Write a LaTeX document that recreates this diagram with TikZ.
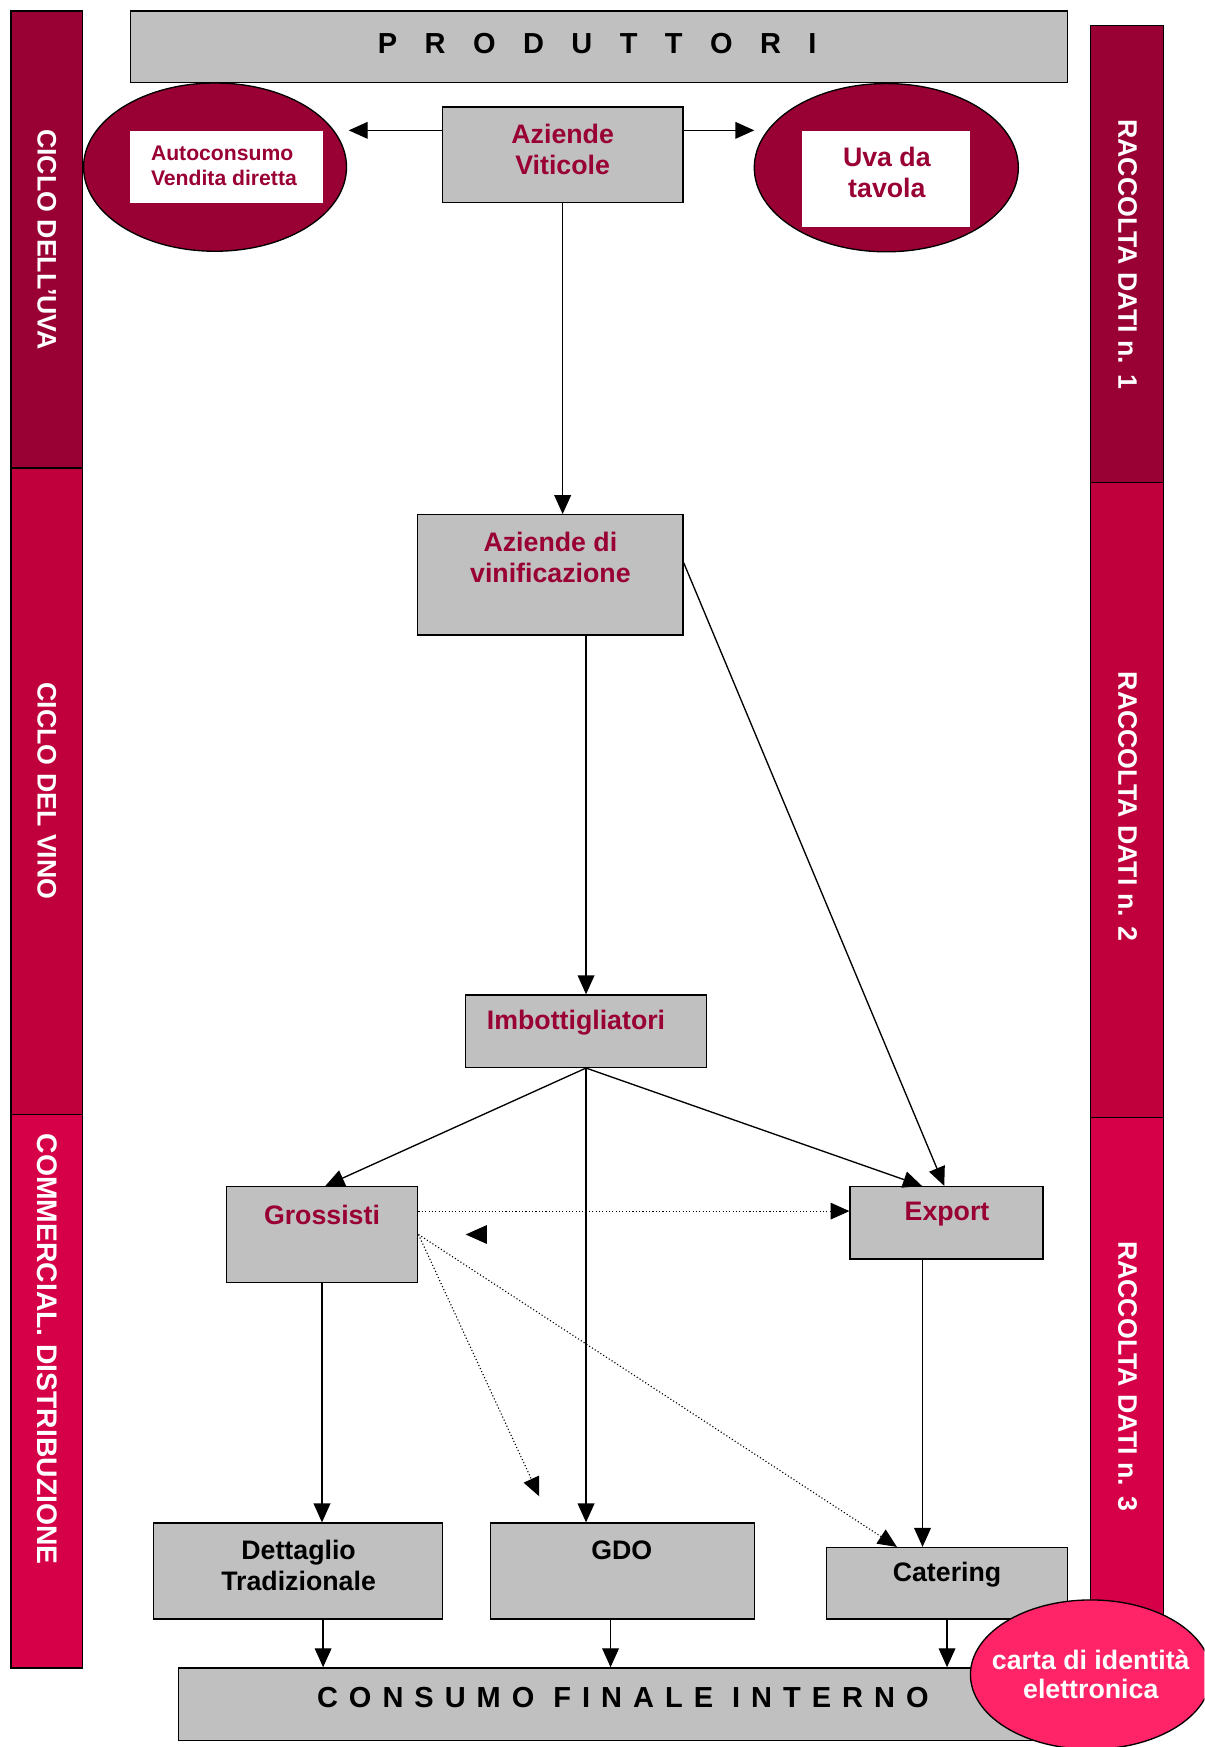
\documentclass[tikz,border=0pt]{standalone}
\usepackage{fontspec}
\setmainfont{Liberation Sans}
\usetikzlibrary{arrows.meta,shapes.geometric}
\definecolor{wine}{HTML}{990033}
\definecolor{crimson}{HTML}{BF003C}
\definecolor{raspberry}{HTML}{D60048}
\definecolor{hotpink}{HTML}{FF2468}
\definecolor{boxgray}{HTML}{C0C0C0}
\begin{document}
\begin{tikzpicture}[x=0.5pt,y=-0.5pt,
  box/.style={draw=black, line width=0.6pt, fill=boxgray, inner sep=0pt},
  band/.style={draw=black, line width=0.6pt, inner sep=0pt},
  lbl/.style={text=wine, font=\bfseries\fontsize{12}{14}\selectfont, align=center, inner sep=0pt},
  blbl/.style={text=black, font=\bfseries\fontsize{12}{14}\selectfont, align=center, inner sep=0pt},
  wide/.style={text=black, inner sep=0pt},
  bandtxt/.style={text=white, font=\bfseries\fontsize{12}{14}\selectfont, rotate=-90, inner sep=0pt},
  oval/.style={ellipse, draw=black, line width=0.6pt, inner sep=0pt},
  arr/.style={-{Triangle[length=8.5pt,width=7.5pt]}, line width=0.6pt},
  dots/.style={arr, line width=0.5pt, dash pattern=on 0.5pt off 1pt},
]
\useasboundingbox (0,0) rectangle (1081,1568);
\clip (0,0) rectangle (1081,1568);

% side bands, left
\node[band, fill=wine, minimum width=32pt, minimum height=205pt] (bl1) at (42,215) {};
\node[band, fill=crimson, minimum width=32pt, minimum height=290pt] (bl2) at (42,710) {};
\node[band, fill=raspberry, minimum width=32pt, minimum height=248.5pt] (bl3) at (42,1248.5) {};
\node[bandtxt] (tl1) at (bl1.center) {CICLO DELL’UVA};
\node[bandtxt] (tl2) at (bl2.center) {CICLO DEL VINO};
\node[bandtxt, font=\bfseries\fontsize{12.7}{15}\selectfont] (tl3) at (42,1211) {COMMERCIAL. DISTRIBUZIONE};

% side bands, right
\node[band, fill=wine, minimum width=32.5pt, minimum height=205pt] (br1) at (1011.5,228) {};
\node[band, fill=crimson, minimum width=32.5pt, minimum height=285pt] (br2) at (1011.5,718) {};
\node[band, fill=raspberry, minimum width=32.5pt, minimum height=248.5pt] (br3) at (1011.5,1251.5) {};
\node[bandtxt] (tr1) at (1012,228) {RACCOLTA DATI n. 1};
\node[bandtxt] (tr2) at (1012,724) {RACCOLTA DATI n. 2};
\node[bandtxt] (tr3) at (1012,1235) {RACCOLTA DATI n. 3};

% header
\node[box, minimum width=420.5pt, minimum height=32pt] (prod) at (537.5,42) {};
\node[wide, font=\bfseries\fontsize{13}{15}\selectfont\addfontfeatures{LetterSpace=67}] (prodt) at (536,39) {P R O D U T T O R I};

% grape producers and their two outlets
\node[box, minimum width=108pt, minimum height=43pt] (av) at (505,139) {};
\node[lbl] (avt) at (505,134) {Aziende\\Viticole};

\node[oval, fill=wine, minimum width=118pt, minimum height=75.5pt] (ovl) at (193,150) {};
\node[fill=white, inner sep=0pt, minimum width=86.5pt, minimum height=32pt] (wl) at (203.5,150) {};
\node[lbl, align=left, font=\bfseries\fontsize{9.5}{11}\selectfont] (wlt) at (201,149) {Autoconsumo\\Vendita diretta};

\node[oval, fill=wine, minimum width=118.5pt, minimum height=75.5pt] (ovr) at (795.5,150.5) {};
\node[fill=white, inner sep=0pt, minimum width=75.5pt, minimum height=43pt] (wr) at (795.5,161) {};
\node[lbl] (wrt) at (796,155) {Uva da\\tavola};

\coordinate (tipL) at (313,117);
\coordinate (tipR) at (677,117);
\draw[arr] ([yshift=11pt]av.west) -- (tipL);
\draw[arr] ([yshift=11pt]av.east) -- (tipR);

% wine chain
\node[box, minimum width=119pt, minimum height=54pt] (vin) at (494,516) {};
\node[lbl] (vint) at (494,500) {Aziende di\\vinificazione};

\node[box, minimum width=108pt, minimum height=32.5pt] (imb) at (526,925.5) {};
\node[lbl] (imbt) at (517,918) {Imbottigliatori};

\node[box, minimum width=86pt, minimum height=43pt] (gro) at (289,1108) {};
\node[lbl] (grot) at (289,1090) {Grossisti};

\node[box, minimum width=86.5pt, minimum height=32.5pt] (exp) at (849.5,1097.5) {};
\node[lbl] (expt) at (850,1090) {Export};

\node[box, minimum width=129.5pt, minimum height=43pt] (det) at (267.5,1410) {};
\node[blbl] (dett) at (268,1405) {Dettaglio\\Tradizionale};

\node[box, minimum width=118.5pt, minimum height=43pt] (gdo) at (558.5,1410) {};
\node[blbl] (gdot) at (558,1391) {GDO};

\node[box, minimum width=108pt, minimum height=32pt] (cat) at (850,1421) {};
\node[blbl] (catt) at (850,1413) {Catering};

\node[box, minimum width=399pt, minimum height=32.5pt] (con) at (559,1529.5) {};
\node[wide, font=\bfseries\fontsize{13}{15}\selectfont\addfontfeatures{LetterSpace=38}] (cont) at (559,1524) {CONSUMO FINALE INTERNO};

% main flows
\draw[arr] (av.south) -- (av.south |- vin.north);
\draw[arr] (vin.south -| imb.north) -- (imb.north);
\draw[arr] ([yshift=5.5pt]vin.east) -- ([xshift=-1pt]exp.north);
\draw[arr] (imb.south) -- ([xshift=1.5pt]gro.north);
\draw[arr] (imb.south) -- ([xshift=-11pt]exp.north);
\draw[arr] (imb.south) -- (imb.south |- gdo.north);
\draw[arr] (gro.south) -- (gro.south |- det.north);
\draw[arr] ([xshift=-10.75pt]exp.south) -- ([xshift=-10.75pt]exp.south |- cat.north);

% secondary flows from the wholesalers
\coordinate (tipG) at (484,1343);
\draw[dots] ([yshift=10.5pt]gro.east) -- ([yshift=5.25pt]exp.west);
\draw[dots] (gro.east) -- (tipG);
\draw[dots] (gro.east) -- ([xshift=-22.5pt]cat.north);
\fill (418,1108) -- (437,1099.5) -- (437,1116.5) -- cycle;

% into final consumption
\draw[arr] ([xshift=11.25pt]det.south) -- ([xshift=11.25pt]det.south |- con.north);
\draw[arr] ([xshift=-5.25pt]gdo.south) -- ([xshift=-5.25pt]gdo.south |- con.north);
\draw[arr] (cat.south) -- (cat.south |- con.north);

% electronic identity card badge
\node[oval, fill=hotpink, minimum width=108pt, minimum height=67pt] (card) at (979,1503) {};
\node[text=white, font=\bfseries\fontsize{12}{13}\selectfont, align=center, inner sep=0pt] (cardt) at (979,1503) {carta di identità\\elettronica};
\end{tikzpicture}
\end{document}
